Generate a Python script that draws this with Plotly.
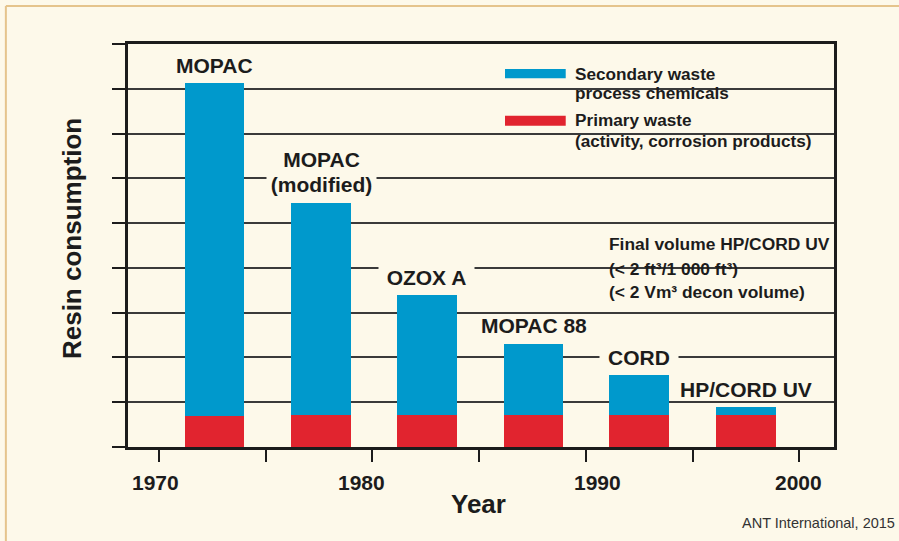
import plotly.graph_objects as go

# resin consumption by decon process (relative units, one grid step = 1)
years = [1972.6, 1977.6, 1982.55, 1987.55, 1992.5, 1997.5]
process = ["MOPAC", "MOPAC\n(modified)", "OZOX A", "MOPAC 88", "CORD", "HP/CORD UV"]
primary = [0.69, 0.72, 0.72, 0.72, 0.72, 0.72]
secondary = [7.43, 4.73, 2.67, 1.59, 0.88, 0.17]

tick_years = [1970, 1975, 1980, 1985, 1990, 1995, 2000]
label_years = ["1970", "1980", "1990", "2000"]
label_x = [1969.84, 1979.51, 1990.56, 1999.95]

BG = "#fdf9ea"
BLUE = "#0099cc"
RED = "#e1242f"
INK = "#1c1c1c"
FONT = "Liberation Sans, Arial, sans-serif"

fig = go.Figure()
fig.add_bar(x=years, y=primary, width=2.8, marker=dict(color=RED, line=dict(width=0)),
            name="Primary waste", showlegend=False)
fig.add_bar(x=years, y=secondary, width=2.8, marker=dict(color=BLUE, line=dict(width=0)),
            name="Secondary waste", showlegend=False)

# process labels above the bars; some of them blank out the grid line behind
gap_w = {"MOPAC\n(modified)": 109, "OZOX A": 95, "CORD": 78}
for x, p, s, name in zip(years, primary, secondary, process):
    top = p + s
    lines = name.split("\n")
    for i, txt in enumerate(reversed(lines)):
        fig.add_annotation(x=x, y=top, xref="x", yref="y", text=txt, showarrow=False,
                           yanchor="middle", yshift=18 + 25 * i,
                           font=dict(family=FONT, size=21, color=INK, weight="bold"),
                           bgcolor=BG if name in gap_w else None,
                           width=gap_w.get(name), borderpad=0)

# x tick labels (slightly off the ticks, as in the original)
for lx, lt in zip(label_x, label_years):
    fig.add_annotation(x=lx, y=-0.087, xref="x", yref="paper", text=lt, showarrow=False,
                       yanchor="middle", font=dict(family=FONT, size=21, color=INK, weight="bold"))

shapes = [
    # legend panel and note panel hide the grid lines
    dict(type="rect", xref="paper", yref="paper", x0=0.513, x1=1, y0=0.717, y1=1,
         fillcolor=BG, line_width=0, layer="between"),
    dict(type="rect", xref="paper", yref="paper", x0=0.652, x1=1, y0=0.36, y1=0.536,
         fillcolor=BG, line_width=0, layer="between"),
    # legend swatches
    dict(type="rect", xref="paper", yref="paper", x0=0.534, x1=0.620, y0=0.915, y1=0.938,
         fillcolor=BLUE, line_width=0),
    dict(type="rect", xref="paper", yref="paper", x0=0.534, x1=0.620, y0=0.797, y1=0.822,
         fillcolor=RED, line_width=0),
    # outer frame
    dict(type="line", xref="paper", yref="paper", x0=-0.173, x1=1.2, y0=1.094, y1=1.094,
         line=dict(color="#e5c48c", width=2)),
    dict(type="line", xref="paper", yref="paper", x0=-0.173, x1=-0.173, y0=1.094, y1=-0.3,
         line=dict(color="#e5c48c", width=2)),
]

legend_lines = [("Secondary waste", 0.9256), ("process chemicals", 0.8772),
                ("Primary waste", 0.8102), ("(activity, corrosion products)", 0.7593)]
for txt, y in legend_lines:
    fig.add_annotation(x=0.6303, y=y, xref="paper", yref="paper", text=txt, showarrow=False,
                       xanchor="left", yanchor="middle",
                       font=dict(family=FONT, size=17.2, color=INK, weight="bold"))

note_lines = [("Final volume HP/CORD UV", 0.5037), ("(< 2 ft³/1 000 ft³)", 0.4417),
              ("(< 2 Vm³ decon volume)", 0.3846)]
for txt, y in note_lines:
    fig.add_annotation(x=0.678, y=y, xref="paper", yref="paper", text=txt, showarrow=False,
                       xanchor="left", yanchor="middle",
                       font=dict(family=FONT, size=17.4, color=INK, weight="bold"))

fig.add_annotation(x=-0.0793, y=0.516, xref="paper", yref="paper", text="Resin consumption",
                   textangle=-90, showarrow=False, xanchor="center", yanchor="middle",
                   font=dict(family=FONT, size=26, color=INK, weight="bold"))
fig.add_annotation(x=0.4965, y=-0.1414, xref="paper", yref="paper", text="Year",
                   showarrow=False, yanchor="middle",
                   font=dict(family=FONT, size=26, color=INK, weight="bold"))
fig.add_annotation(x=1.0888, y=-0.1886, xref="paper", yref="paper", text="ANT International, 2015",
                   showarrow=False, xanchor="right", yanchor="middle",
                   font=dict(family=FONT, size=14.5, color="#333333"))

fig.update_layout(
    width=899, height=541,
    margin=dict(l=128, r=65, t=44, b=94),
    paper_bgcolor=BG, plot_bgcolor=BG,
    barmode="stack", bargap=0,
    shapes=shapes,
    xaxis=dict(range=[1968.55, 2001.63], tickvals=tick_years, showticklabels=False,
               ticks="outside", ticklen=12, tickwidth=2, tickcolor=INK,
               showline=True, linewidth=3, linecolor=INK, mirror=True,
               showgrid=False, zeroline=False),
    yaxis=dict(range=[0, 9], dtick=1, showticklabels=False,
               ticks="outside", ticklen=13, tickwidth=2, tickcolor=INK,
               showline=True, linewidth=3, linecolor=INK, mirror=True,
               showgrid=True, gridcolor="#3a3a3a", gridwidth=1.5, zeroline=False),
)

# drop the default page margin so the figure sits at the window's top-left corner
fig.write_html("out.html", config={"displayModeBar": False},
               post_script="document.body.style.margin='0';")
